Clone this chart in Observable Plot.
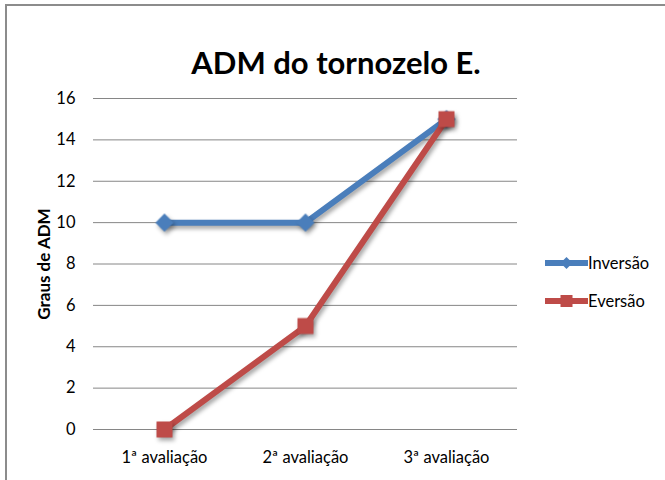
<!DOCTYPE html>
<html>
<head>
<meta charset="utf-8">
<script src="https://cdn.jsdelivr.net/npm/d3@7"></script>
<script src="https://cdn.jsdelivr.net/npm/@observablehq/plot@0.6"></script>
<style>
  html, body { margin: 0; padding: 0; background: #fff; }
  #wrap { position: relative; width: 665px; height: 480px; overflow: hidden; font-family: Lato, "Open Sans", sans-serif; }
  #frame { position: absolute; left: 5px; top: 4px; width: 670px; height: 490px; border: 2px solid #8c8c8c; box-sizing: border-box; }
  #title { position: absolute; left: 0; width: 672px; top: 47px; text-align: center; font-size: 31px; font-weight: bold; color: #000; line-height: 1; }
  #chart { position: absolute; left: 0; top: 0; }
  .leg { position: absolute; left: 545px; display: flex; align-items: center; font-size: 16.5px; color: #000; }
  .leg svg { display: block; margin-right: 0px; }
</style>
</head>
<body>
<div id="wrap">
  <div id="frame"></div>
  <div id="chart"></div>
  <div id="title"></div>
  <div id="legend"></div>
</div>
<script>
const title = "ADM do tornozelo E.";
const yLabel = "Graus de ADM";
const categories = ["1ª avaliação", "2ª avaliação", "3ª avaliação"];
const seriesNames = ["Inversão", "Eversão"];
const inversao = [10, 10, 15];
const eversao = [0, 5, 15];
const yTicks = [0, 2, 4, 6, 8, 10, 12, 14, 16];
const colors = ["#4A7EBB", "#BE4B48"];

const inv = categories.map((c, i) => ({cat: c, v: inversao[i]}));
const ev = categories.map((c, i) => ({cat: c, v: eversao[i]}));

const plot = Plot.plot({
  width: 665,
  height: 480,
  marginLeft: 93,
  marginRight: 148,
  marginTop: 98,
  marginBottom: 51,
  style: {fontFamily: "Lato, 'Open Sans', sans-serif", fontSize: "16px", color: "#000", background: "transparent"},
  x: {type: "point", domain: categories, padding: 0.5, label: null},
  y: {domain: [0, 16], ticks: yTicks, label: null},
  marks: [
    Plot.gridY(yTicks, {stroke: "#868686", strokeOpacity: 1, strokeWidth: 1}),
    Plot.ruleX([0], {x: () => null, frameAnchor: "left", stroke: "#868686"}),
    Plot.axisY(yTicks, {tickSize: 0, tickPadding: 18, fontSize: 16.5, label: null}),
    Plot.axisX(categories, {tickSize: 0, tickPadding: 22, fontSize: 16.5, label: null}),
    Plot.text([yLabel], {frameAnchor: "left", textAnchor: "middle", rotate: -90, dx: -49, fontWeight: "bold", fontSize: 17}),
    Plot.line(inv, {x: "cat", y: "v", stroke: colors[0], strokeWidth: 6}),
    Plot.dot(inv, {x: "cat", y: "v", symbol: "diamond2", r: 8.2, fill: colors[0], stroke: "none"}),
    Plot.line(ev, {x: "cat", y: "v", stroke: colors[1], strokeWidth: 6}),
    Plot.dot(ev, {x: "cat", y: "v", symbol: "square", r: 9, fill: colors[1], stroke: "none"})
  ]
});
document.getElementById("chart").appendChild(plot);
d3.select(plot).selectAll('g[aria-label="line"], g[aria-label="dot"]')
  .style("filter", "drop-shadow(2px 3px 2px rgba(0,0,0,0.35))");
// the left vertical axis line
d3.select(plot).selectAll('g[aria-label="rule"] line')
  .attr("x1", 93).attr("x2", 93).attr("y1", 98).attr("y2", 429);

document.getElementById("title").textContent = title;

const legend = document.getElementById("legend");
const legTops = [251, 289];
seriesNames.forEach((name, i) => {
  const item = document.createElement("div");
  item.className = "leg";
  item.style.top = legTops[i] + "px";
  const marker = i === 0
    ? `<path d="M21.5,16 L27.5,22 L21.5,28 L15.5,22 Z" fill="${colors[i]}"/>`
    : `<rect x="15.5" y="16" width="12" height="12" fill="${colors[i]}"/>`;
  item.innerHTML = `<svg width="43" height="44" viewBox="0 0 43 44" style="margin-top:-10px;margin-bottom:-10px"><line x1="1" x2="42" y1="22" y2="22" stroke="${colors[i]}" stroke-width="6" stroke-linecap="round"/>${marker}</svg><span>${name}</span>`;
  legend.appendChild(item);
});
</script>
</body>
</html>
